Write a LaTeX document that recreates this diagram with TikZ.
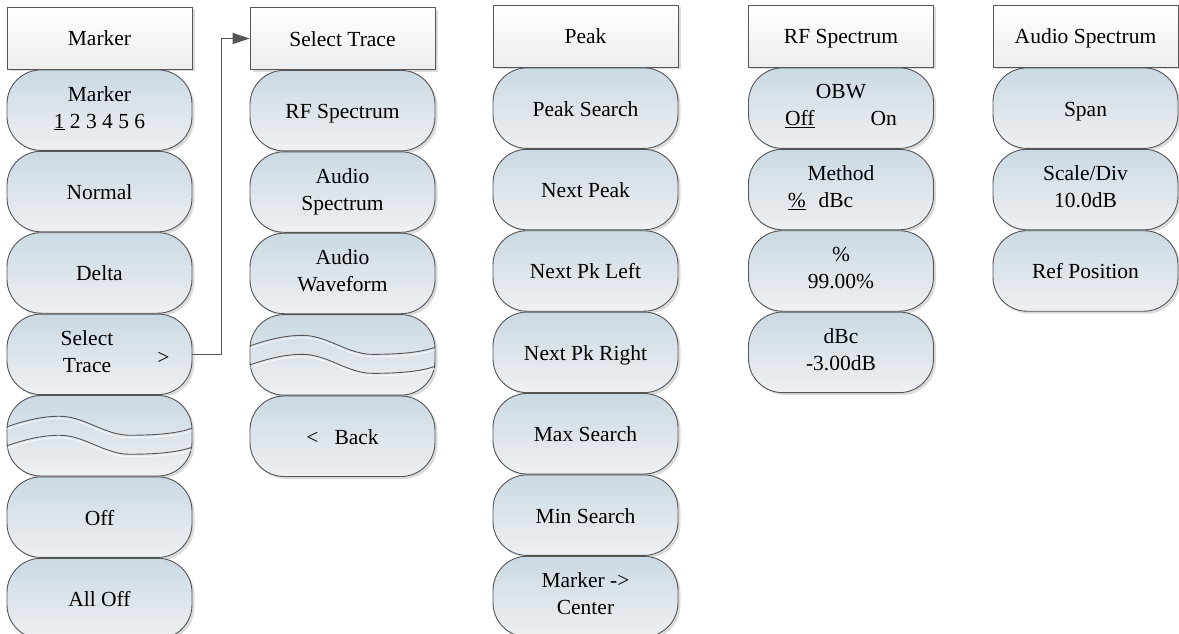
\documentclass[tikz,border=0pt]{standalone}
\usepackage{fontspec}
\setmainfont{Liberation Serif}
\usetikzlibrary{arrows.meta,positioning,shadows}

\definecolor{keytop}{RGB}{202,217,227}
\definecolor{keybot}{RGB}{239,240,242}
\definecolor{keyedge}{RGB}{85,85,85}

\newcommand\keystrut{\rule[-6pt]{0pt}{28pt}}

\tikzset{
  keyshadow/.style={drop shadow={shadow xshift=2.5pt,shadow yshift=-2.5pt,opacity=0.2,fill=black!70}},
  menuhead/.style={draw=keyedge, line width=0.9pt, top color=white, bottom color=black!7,
    minimum width=185pt, minimum height=62pt, inner sep=0pt, keyshadow,
    execute at begin node=\keystrut},
  softkey/.style={draw=keyedge, line width=0.9pt, rounded corners=34pt, top color=keytop,
    bottom color=keybot, minimum width=185pt, minimum height=80.5pt, align=center,
    inner sep=0pt, keyshadow, execute at begin node=\keystrut, execute at end node=\keystrut},
  waveline/.style={draw=keyedge, line width=0.9pt},
  waveglow/.style={draw=white, line width=1pt, opacity=0.7},
  flow/.style={draw=keyedge, line width=1.1pt, -{Triangle[length=17pt,width=11pt]}},
}

% the two wavy strokes of an empty soft key
\newcommand\blanklines[1]{%
  \foreach \dy/\st in {-2.5/waveglow,-21.5/waveglow,0/waveline,-19/waveline}{
    \draw[\st] ([shift={(-92.5,9+\dy)}]#1.center)
      .. controls ([shift={(-75,15+\dy)}]#1.center) and ([shift={(-58,19.5+\dy)}]#1.center) .. ([shift={(-40,19.5+\dy)}]#1.center)
      .. controls ([shift={(-15,19.5+\dy)}]#1.center) and ([shift={(5,0.5+\dy)}]#1.center) .. ([shift={(30,0.5+\dy)}]#1.center)
      .. controls ([shift={(60,0.5+\dy)}]#1.center) and ([shift={(80,3+\dy)}]#1.center) .. ([shift={(92.5,7.5+\dy)}]#1.center);
  }}

\begin{document}
\begin{tikzpicture}[x=1pt, y=1pt, font=\fontsize{21.5}{27}\selectfont]
  \useasboundingbox (0,0) rectangle (1179,-634);

  % menu titles
  \node[menuhead] (mk0) at (99.5,-38) {Marker};
  \node[menuhead] (st0) at (342.5,-38.5) {Select Trace};
  \node[menuhead] (pk0) at (585.5,-36) {Peak};
  \node[menuhead] (rf0) at (841,-36) {RF Spectrum};
  \node[menuhead] (au0) at (1085.5,-36) {Audio Spectrum};

  % soft keys
  \foreach \t [count=\i] in {{Marker\\\underline{1} 2 3 4 5 6}, Normal, Delta,
      {Select\hspace*{25pt}\\Trace\hspace*{25pt}}, {}, Off, All Off}{
    \pgfmathtruncatemacro{\j}{\i-1}
    \node[softkey, below=0pt of mk\j] (mk\i) {\t};
  }
  \foreach \t [count=\i] in {RF Spectrum, {Audio\\Spectrum}, {Audio\\Waveform}, {},
      {<\hspace{0.75em}Back}}{
    \pgfmathtruncatemacro{\j}{\i-1}
    \node[softkey, below=0pt of st\j] (st\i) {\t};
  }
  \foreach \t [count=\i] in {Peak Search, Next Peak, Next Pk Left, Next Pk Right,
      Max Search, Min Search, {Marker ->\\Center}}{
    \pgfmathtruncatemacro{\j}{\i-1}
    \node[softkey, below=0pt of pk\j] (pk\i) {\t};
  }
  \foreach \t [count=\i] in {{OBW\\\underline{Off}\hspace{2.6em}On},
      {Method\\\underline{\%}\hspace{0.6em}dBc\hspace*{41pt}}, {\%\\99.00\%}, {dBc\\-3.00dB}}{
    \pgfmathtruncatemacro{\j}{\i-1}
    \node[softkey, below=0pt of rf\j] (rf\i) {\t};
  }
  \foreach \t [count=\i] in {Span, {Scale/Div\\10.0dB}, Ref Position}{
    \pgfmathtruncatemacro{\j}{\i-1}
    \node[softkey, below=0pt of au\j] (au\i) {\t};
  }

  \blanklines{mk5}
  \blanklines{st4}
  \node (mkgt) at ([xshift=64pt,yshift=-4pt]mk4.center) {>};

  \draw[flow] (mk4.east) -- ++(29,0) |- (st0.west);
\end{tikzpicture}
\end{document}
